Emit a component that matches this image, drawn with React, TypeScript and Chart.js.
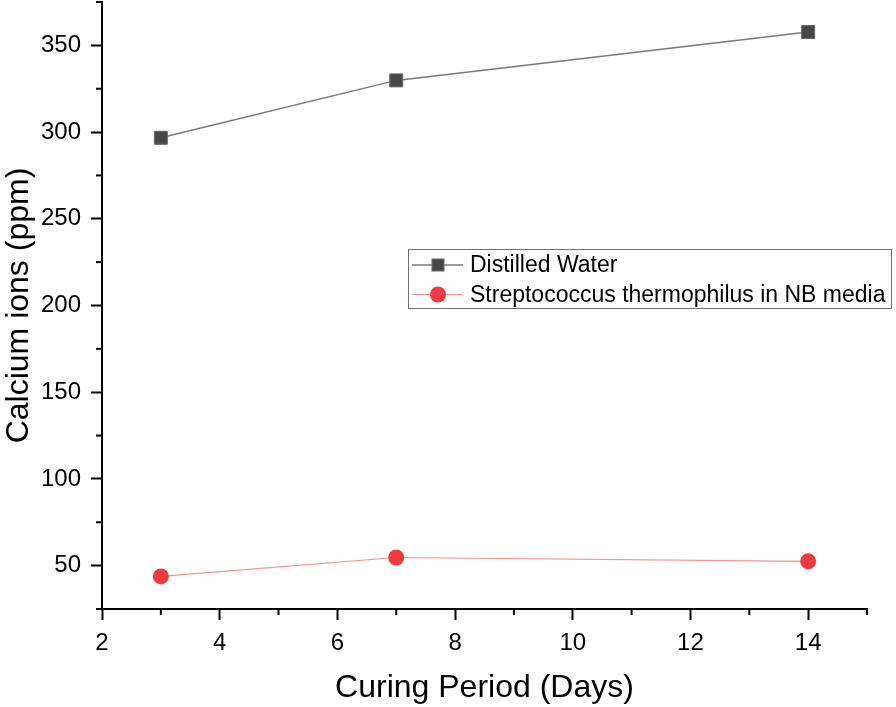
import React, { useEffect, useRef } from 'react';
import { Chart, registerables } from 'chart.js';

Chart.register(...registerables);

const curingDays = [3, 7, 14];
const distilledWater = [296.7, 329.8, 357.7];
const streptococcus = [43.8, 54.7, 52.5];
const seriesLabels = ['Distilled Water', 'Streptococcus thermophilus in NB media'];
const xTitle = 'Curing Period (Days)';
const yTitle = 'Calcium ions (ppm)';

const FONT = "'Liberation Sans', Arial, Helvetica, sans-serif";

const minorTicks = {
  id: 'minorTicks',
  afterDraw(chart: any) {
    const ctx = chart.ctx;
    ctx.save();
    ctx.strokeStyle = '#000';
    ctx.lineWidth = 2;
    const xs = chart.scales.x;
    const ys = chart.scales.y;
    xs.ticks.forEach((t: any) => {
      if (t.value % 2 !== 0) {
        const px = xs.getPixelForValue(t.value);
        ctx.beginPath();
        ctx.moveTo(px, xs.top);
        ctx.lineTo(px, xs.top + 6);
        ctx.stroke();
      }
    });
    ys.ticks.forEach((t: any) => {
      if (t.value % 50 !== 0) {
        const py = ys.getPixelForValue(t.value);
        ctx.beginPath();
        ctx.moveTo(ys.right, py);
        ctx.lineTo(ys.right - 6, py);
        ctx.stroke();
      }
    });
    ctx.restore();
  },
};

const boxLegend = {
  id: 'boxLegend',
  afterDraw(chart: any) {
    const ctx = chart.ctx;
    ctx.save();
    ctx.strokeStyle = '#707070';
    ctx.lineWidth = 1;
    ctx.strokeRect(408.5, 249.5, 483, 59);
    ctx.font = `23px ${FONT}`;
    ctx.textBaseline = 'middle';
    ctx.textAlign = 'left';
    chart.data.datasets.forEach((ds: any, i: number) => {
      const y = 265 + i * 29.5;
      ctx.strokeStyle = ds.borderColor;
      ctx.lineWidth = ds.borderWidth;
      ctx.beginPath();
      ctx.moveTo(412, y);
      ctx.lineTo(463, y);
      ctx.stroke();
      ctx.fillStyle = ds.pointBackgroundColor;
      ctx.strokeStyle = ds.pointBorderColor;
      ctx.lineWidth = 1;
      if (ds.pointStyle === 'rect') {
        ctx.fillRect(432, y - 6, 12, 12);
        ctx.strokeRect(432, y - 6, 12, 12);
      } else {
        ctx.beginPath();
        ctx.arc(438, y, 8, 0, Math.PI * 2);
        ctx.fill();
      }
      ctx.fillStyle = '#000';
      ctx.fillText(ds.label, 470, y + 1);
    });
    ctx.restore();
  },
};

export default function App() {
  const ref = useRef<HTMLCanvasElement>(null);
  useEffect(() => {
    document.body.style.margin = '0';
    const chart = new Chart(ref.current!, {
      type: 'line',
      data: {
        datasets: [
          {
            label: seriesLabels[0],
            data: curingDays.map((d, i) => ({ x: d, y: distilledWater[i] })),
            borderColor: '#7a7a7a',
            borderWidth: 1.5,
            pointStyle: 'rect',
            pointRadius: 9.2,
            pointBackgroundColor: '#484848',
            pointBorderColor: '#6a6a6a',
            pointBorderWidth: 1,
          },
          {
            label: seriesLabels[1],
            data: curingDays.map((d, i) => ({ x: d, y: streptococcus[i] })),
            borderColor: '#f29494',
            borderWidth: 1.2,
            pointStyle: 'circle',
            pointRadius: 8,
            pointBackgroundColor: '#ef3b3f',
            pointBorderColor: '#ef3b3f',
            pointBorderWidth: 0,
          },
        ],
      },
      options: {
        animation: false,
        responsive: false,
        layout: { autoPadding: false, padding: { left: 0, top: 2, right: 29, bottom: 0 } },
        plugins: { legend: { display: false }, tooltip: { enabled: false } },
        scales: {
          x: {
            type: 'linear',
            min: 2,
            max: 15,
            afterFit: (s: any) => {
              s.height = 98;
              s.paddingLeft = 0;
              s.paddingRight = 0;
            },
            ticks: {
              stepSize: 1,
              includeBounds: false,
              autoSkip: false,
              maxRotation: 0,
              padding: 9,
              color: '#000',
              font: { family: FONT, size: 24 },
              callback: (v: any) => (Number(v) % 2 === 0 ? String(v) : ''),
            },
            grid: {
              drawOnChartArea: false,
              drawTicks: true,
              tickLength: 11,
              tickWidth: 2,
              tickColor: (c: any) => (c.tick && c.tick.value % 2 === 0 ? '#000' : 'rgba(0,0,0,0)'),
            },
            border: { color: '#000', width: 2 },
            title: {
              display: true,
              text: xTitle,
              color: '#000',
              font: { family: FONT, size: 32 },
              padding: 0,
            },
          },
          y: {
            type: 'linear',
            min: 25,
            max: 375,
            afterFit: (s: any) => {
              s.width = 102;
              s.paddingTop = 0;
              s.paddingBottom = 0;
            },
            ticks: {
              stepSize: 25,
              includeBounds: false,
              autoSkip: false,
              padding: 10,
              color: '#000',
              font: { family: FONT, size: 24 },
              callback: (v: any) => (Number(v) % 50 === 0 ? String(v) : ''),
            },
            grid: {
              drawOnChartArea: false,
              drawTicks: true,
              tickLength: 11,
              tickWidth: 2,
              tickColor: (c: any) => (c.tick && c.tick.value % 50 === 0 ? '#000' : 'rgba(0,0,0,0)'),
            },
            border: { color: '#000', width: 2 },
            title: {
              display: true,
              text: yTitle,
              color: '#000',
              font: { family: FONT, size: 32 },
              padding: 0,
            },
          },
        },
      },
      plugins: [minorTicks, boxLegend],
    });
    return () => chart.destroy();
  }, []);
  return <canvas ref={ref} width={896} height={707} style={{ display: 'block' }} />;
}
